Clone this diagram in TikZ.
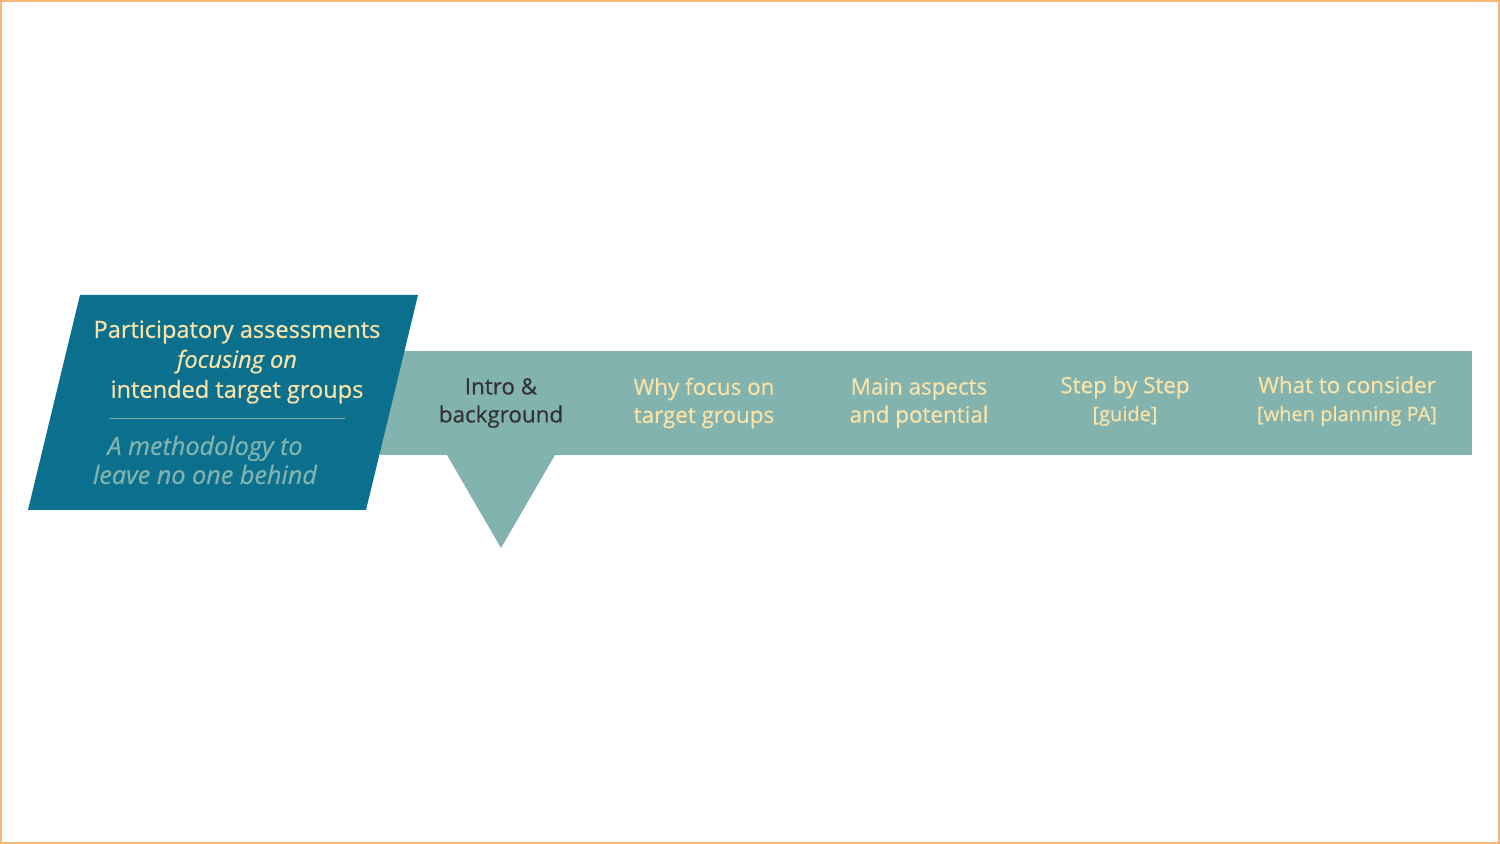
\documentclass[tikz,border=0pt]{standalone}
\usepackage{fontspec}
\setmainfont{Open Sans}[FakeBold=0.6]
\usepackage{tikz}
\usetikzlibrary{positioning}
\definecolor{petrol}{HTML}{0B6F8E}
\definecolor{sage}{HTML}{82B3AF}
\definecolor{cream}{HTML}{FBE3A6}
\definecolor{inktext}{HTML}{333333}
\definecolor{framecol}{HTML}{F8B77A}
\newcommand{\notesize}{\fontsize{10}{12}\selectfont}

\begin{document}
\begin{tikzpicture}[x=0.5pt, y=-0.5pt,
    tab/.style={text=cream, align=center, font=\fontsize{11.2}{14}\selectfont},
    title/.style={text=cream, align=center, font=\fontsize{11.8}{15}\selectfont},
    subtitle/.style={text=sage, align=center, font=\fontsize{12.6}{14.5}\selectfont\itshape}]
    \useasboundingbox (0,0) rectangle (1500,844);
    \draw[framecol, line width=1pt] (1,1) rectangle (1499,843);

    % band and pointer
    \fill[sage] (380,351) rectangle (1472,455);
    \fill[sage] (447,455) -- (555,455) -- (501,548) -- cycle;

    % title block
    \fill[petrol] (80,295) -- (418,295) -- (366,510) -- (28,510) -- cycle;
    \node[title] at (237,362) (T) {Participatory assessments\\ \itshape focusing on\\ intended target groups};
    \coordinate (sepL) at (110,418);
    \coordinate (sepR) at (345,418);
    \draw[sage, line width=0.4pt] (sepL) -- (sepR);
    \node[subtitle] at (205,460) (S) {A methodology to\\ leave no one behind};

    % tabs
    \node[tab, text=inktext] at (501,403) (intro) {Intro \&\\ background};
    \node[tab] at (704,403) (why) {Why focus on\\ target groups};
    \node[tab] at (919,403) (main) {Main aspects\\ and potential};
    \node[tab] at (1125,401) (step) {Step by Step\\ {\notesize [guide]}};
    \node[tab] at (1347,401) (what) {What to consider\\ {\notesize [when planning PA]}};
\end{tikzpicture}
\end{document}
